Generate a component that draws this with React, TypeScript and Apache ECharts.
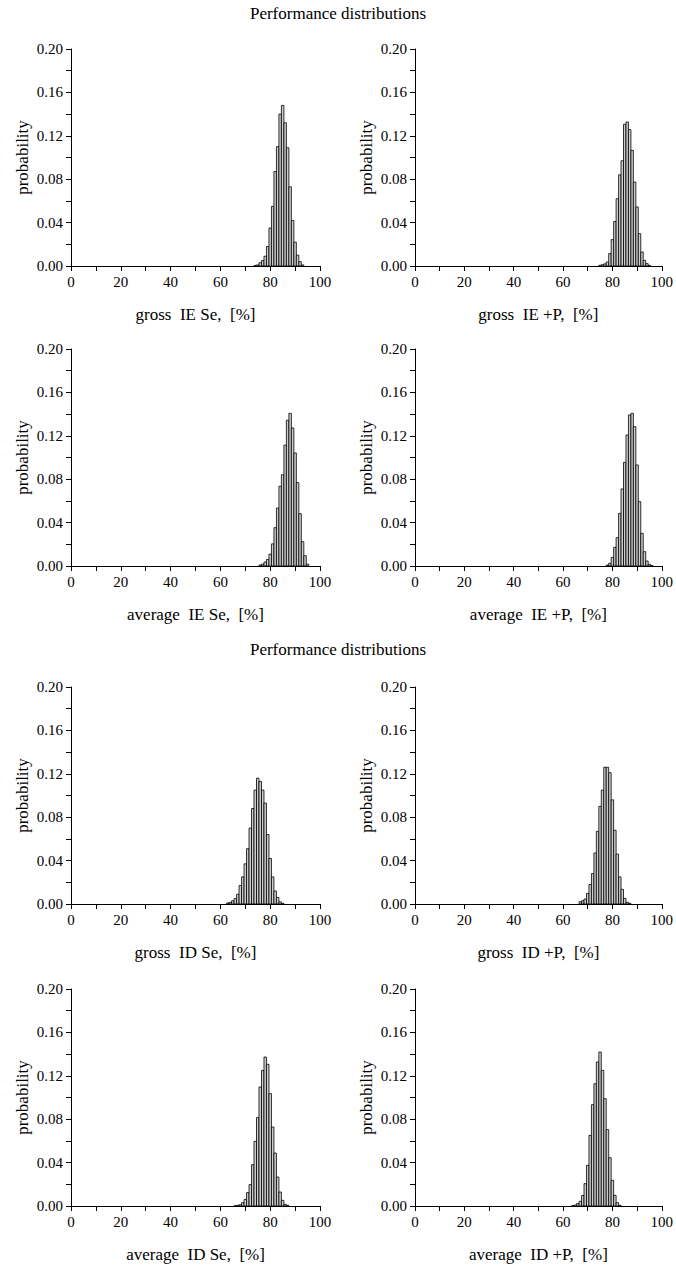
import React, { useEffect, useRef } from "react";
import * as echarts from "echarts";

// ---- data: probability per 1% bin (bin centre = start + index) ----
const grossIESeStart = 74;
const grossIESeProb = [0.0005, 0.001, 0.003, 0.005, 0.009, 0.018, 0.035, 0.055, 0.087, 0.11, 0.14, 0.148, 0.132, 0.109, 0.073, 0.042, 0.022, 0.01, 0.004, 0.001];

const grossIEPStart = 75;
const grossIEPProb = [0.0006, 0.0012, 0.002, 0.0037, 0.0114, 0.0243, 0.041, 0.062, 0.084, 0.097, 0.1306, 0.1327, 0.1257, 0.1066, 0.0774, 0.0544, 0.0298, 0.0129, 0.0052, 0.0022, 0.0006];

const avgIESeStart = 76;
const avgIESeProb = [0.0009, 0.0017, 0.0037, 0.006, 0.0109, 0.0204, 0.0353, 0.0534, 0.0735, 0.0841, 0.1114, 0.1344, 0.1407, 0.1272, 0.1042, 0.0769, 0.0482, 0.0224, 0.0095, 0.0017];

const avgIEPStart = 78;
const avgIEPProb = [0.0009, 0.0025, 0.008, 0.0172, 0.0261, 0.0485, 0.071, 0.0955, 0.1207, 0.1392, 0.1407, 0.1284, 0.0931, 0.0593, 0.0301, 0.0132, 0.0046, 0.0015, 0.0003];

const grossIDSeStart = 63;
const grossIDSeProb = [0.001, 0.0015, 0.003, 0.005, 0.009, 0.017, 0.025, 0.037, 0.051, 0.07, 0.088, 0.105, 0.116, 0.113, 0.105, 0.093, 0.064, 0.042, 0.025, 0.012, 0.006, 0.002, 0.0006];

const grossIDPStart = 67;
const grossIDPProb = [0.0021, 0.003, 0.0046, 0.0098, 0.018, 0.028, 0.047, 0.067, 0.09, 0.105, 0.126, 0.126, 0.121, 0.096, 0.068, 0.046, 0.025, 0.0135, 0.0052, 0.0015, 0.0006];

const avgIDSeStart = 66;
const avgIDSeProb = [0.0003, 0.0006, 0.0012, 0.0031, 0.0061, 0.0123, 0.0197, 0.0381, 0.0596, 0.0814, 0.1097, 0.125, 0.1373, 0.1306, 0.1035, 0.0728, 0.0488, 0.0267, 0.0129, 0.0052, 0.0015, 0.0006];

const avgIDPStart = 64;
const avgIDPProb = [0.0003, 0.0009, 0.0022, 0.0043, 0.0098, 0.0206, 0.0375, 0.0651, 0.0934, 0.1127, 0.1327, 0.1419, 0.125, 0.0989, 0.0704, 0.0445, 0.0237, 0.0098, 0.0031, 0.0006];

const panelNames = [
  "gross  IE Se,  [%]",
  "gross  IE +P,  [%]",
  "average  IE Se,  [%]",
  "average  IE +P,  [%]",
  "gross  ID Se,  [%]",
  "gross  ID +P,  [%]",
  "average  ID Se,  [%]",
  "average  ID +P,  [%]",
];
const panelStarts = [grossIESeStart, grossIEPStart, avgIESeStart, avgIEPStart, grossIDSeStart, grossIDPStart, avgIDSeStart, avgIDPStart];
const panelProbs = [grossIESeProb, grossIEPProb, avgIESeProb, avgIEPProb, grossIDSeProb, grossIDPProb, avgIDSeProb, avgIDPProb];

const blockTitle = "Performance distributions";

const FONT = "Liberation Serif";

export default function App() {
  const ref = useRef<HTMLDivElement>(null);
  useEffect(() => {
    if (!ref.current) return;
    const chart = echarts.init(ref.current, null, { renderer: "svg" });
    const colLeft = [71, 415];
    const colWidth = [249, 248];
    const rowBottom = [266, 566, 904, 1206];
    const plotH = 217;

    const grids: any[] = [];
    const xAxes: any[] = [];
    const yAxes: any[] = [];
    const series: any[] = [];
    for (let i = 0; i < 8; i++) {
      const r = Math.floor(i / 2);
      const c = i % 2;
      grids.push({
        left: colLeft[c],
        width: colWidth[c],
        top: rowBottom[r] - plotH,
        height: plotH,
        containLabel: false,
      });
      xAxes.push({
        type: "value",
        gridIndex: i,
        min: 0,
        max: 100,
        interval: 20,
        name: panelNames[i],
        nameLocation: "middle",
        nameGap: 40,
        nameTextStyle: { fontFamily: FONT, fontSize: 17, color: "#000" },
        axisLine: { show: true, onZero: false, lineStyle: { color: "#000", width: 1 } },
        axisTick: { show: true, inside: false, length: 5, lineStyle: { color: "#000" } },
        minorTick: { show: true, splitNumber: 2, length: 5, lineStyle: { color: "#000" } },
        splitLine: { show: false },
        axisLabel: { fontFamily: FONT, fontSize: 15, color: "#000", margin: 8 },
      });
      yAxes.push({
        type: "value",
        gridIndex: i,
        min: 0,
        max: 0.2,
        interval: 0.04,
        name: "probability",
        nameLocation: "middle",
        nameGap: 40,
        nameTextStyle: { fontFamily: FONT, fontSize: 17, color: "#000" },
        axisLine: { show: true, lineStyle: { color: "#000", width: 1 } },
        axisTick: { show: true, inside: false, length: 5, lineStyle: { color: "#000" } },
        minorTick: { show: true, splitNumber: 2, length: 5, lineStyle: { color: "#000" } },
        splitLine: { show: false },
        axisLabel: {
          fontFamily: FONT,
          fontSize: 15,
          color: "#000",
          margin: 8,
          formatter: (v: number) => v.toFixed(2),
        },
      });
      const data = panelProbs[i].map((p, k) => [panelStarts[i] + k, p]);
      series.push({
        type: "custom",
        xAxisIndex: i,
        yAxisIndex: i,
        data,
        encode: { x: 0, y: 1 },
        clip: true,
        renderItem: (params: any, api: any) => {
          const x = api.value(0);
          const y = api.value(1);
          const p0 = api.coord([x - 0.5, y]);
          const p1 = api.coord([x + 0.5, 0]);
          return {
            type: "rect",
            shape: { x: p0[0], y: p0[1], width: p1[0] - p0[0], height: p1[1] - p0[1] },
            style: { fill: "#cdcdcd", stroke: "#000", lineWidth: 0.8 },
          };
        },
      });
    }

    chart.setOption({
      animation: false,
      backgroundColor: "#fff",
      textStyle: { fontFamily: FONT },
      grid: grids,
      xAxis: xAxes,
      yAxis: yAxes,
      series,
      graphic: [
        {
          type: "text",
          left: "center",
          top: 5,
          style: { text: blockTitle, fontFamily: FONT, fontSize: 17, fill: "#000" },
        },
        {
          type: "text",
          left: "center",
          top: 641,
          style: { text: blockTitle, fontFamily: FONT, fontSize: 17, fill: "#000" },
        },
      ],
    });
    return () => chart.dispose();
  }, []);
  return (
    <div
      ref={ref}
      style={{ position: "absolute", left: 0, top: 0, width: 676, height: 1268, background: "#fff" }}
    />
  );
}
